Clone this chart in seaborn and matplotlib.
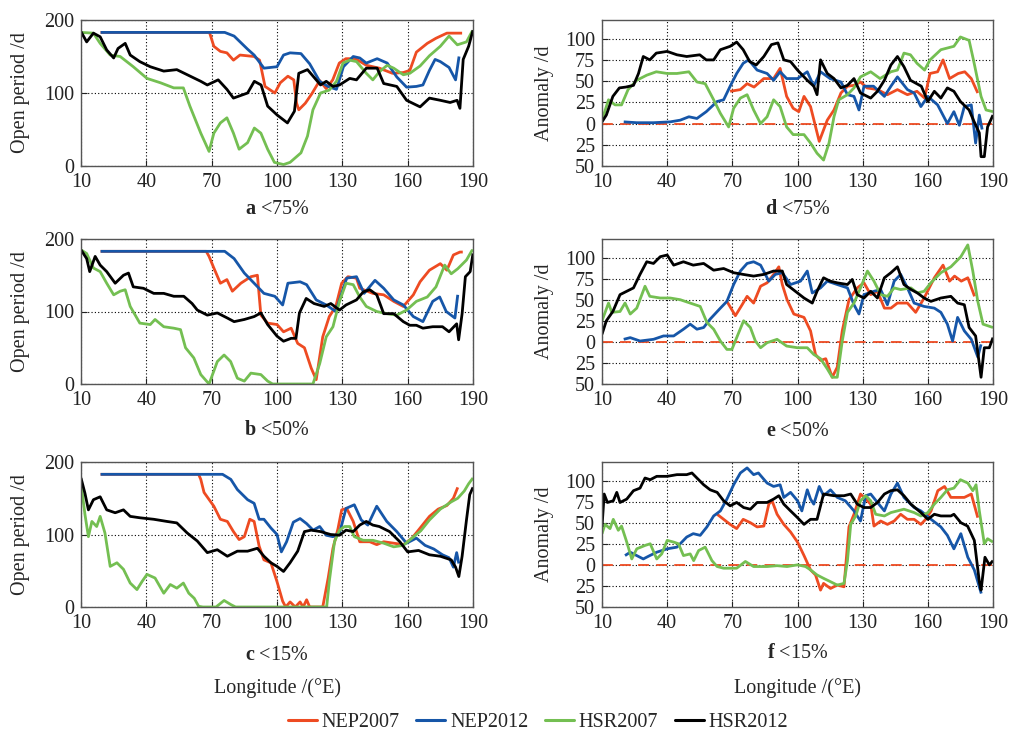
import matplotlib
matplotlib.use("Agg")
import matplotlib.pyplot as plt
from matplotlib.lines import Line2D
import pandas as pd
import seaborn as sns

# ---------------- data: longitude knots (deg E) and values (d) ----------------
SERIES = ["NEP2007", "NEP2012", "HSR2007", "HSR2012"]
COLORS = ["#EE4B22", "#1656A8", "#74BF52", "#000000"]

# open period, ice concentration < 75 %
A_NEP07_LON = [19, 69, 71, 74, 77, 80, 83, 89.5, 92, 94.5, 99, 101.5, 105, 107.7, 109, 110, 113, 116, 119.6, 122.6, 125.6, 128.6, 131.6, 136, 141, 147, 153, 158, 161, 164, 169, 173, 178, 185]
A_NEP07_VAL = [183, 183, 164, 157, 155, 145, 152, 150, 145, 109, 100, 114, 123, 118, 86, 77, 86, 99, 117, 106, 118, 141, 147, 147, 138, 134, 127, 128, 131, 156, 168, 175, 182, 182]
A_NEP12_LON = [19, 76, 80.3, 86.5, 89.5, 94, 100, 103, 106, 111, 115, 119.6, 123.4, 127.3, 130.5, 135, 138, 141, 146, 150.6, 155, 159.5, 164, 167, 170, 172.6, 175, 179, 182, 183.6]
A_NEP12_VAL = [183, 183, 178, 160, 152, 134, 136, 152, 155, 154, 140, 116, 109, 105, 136, 150, 148, 141, 147, 141, 122, 108, 109, 111, 131, 146, 143, 135, 118, 150]
A_HSR07_LON = [10, 15.7, 18.8, 23.4, 28, 34, 40.3, 46.5, 52.6, 57, 60, 65, 68.8, 71, 74, 77, 80, 82.6, 86.5, 89.6, 92.6, 95.7, 98.8, 103, 106, 111, 114, 116.5, 120, 124, 127.3, 130.3, 133.4, 136.5, 141, 144, 147, 150.6, 153.6, 158, 161, 165.7, 170, 175, 179, 182.8, 187, 189.5, 190]
A_HSR07_VAL = [183, 182, 168, 152, 150, 136, 120, 114, 107, 107, 82, 45, 20, 45, 59, 66, 45, 23, 32, 52, 45, 23, 5, 2, 5, 18, 41, 77, 100, 104, 116, 141, 145, 143, 127, 118, 129, 138, 134, 125, 127, 137, 151, 164, 178, 166, 170, 184, 185]
A_HSR12_LON = [10, 12.6, 15.7, 18.8, 21.8, 25, 27, 30.3, 32.6, 37, 41.8, 48, 54, 58.8, 65, 68, 73, 77, 80, 86.5, 89.6, 92.7, 95.7, 100, 104.8, 108, 110, 114, 118, 120, 122.6, 125.7, 128.7, 133.4, 136.5, 141, 146, 149, 155, 159.5, 165.7, 170, 175, 179.5, 182.7, 184, 185.5, 188, 190]
A_HSR12_VAL = [184, 170, 182, 177, 159, 148, 161, 168, 152, 143, 136, 130, 132, 125, 116, 111, 118, 105, 93, 100, 116, 111, 82, 70, 59, 75, 127, 132, 118, 111, 116, 109, 111, 120, 118, 134, 134, 113, 109, 90, 81, 93, 90, 87, 90, 79, 146, 164, 186]

# open period, ice concentration < 50 %
B_NEP07_LON = [19, 67.5, 68.8, 71, 74, 77, 79.5, 83.4, 88, 91, 92.6, 95.7, 100, 103, 106.5, 109.5, 112.6, 115.7, 118, 121, 124, 127, 129.7, 132.6, 136.5, 138, 144, 149, 153.6, 158, 162.6, 165.7, 170, 175, 178, 181, 184, 185.3]
B_NEP07_VAL = [183, 183, 176, 160, 139, 144, 128, 139, 148, 150, 95, 84, 82, 72, 77, 56, 50, 22, 6, 65, 93, 107, 139, 148, 146, 132, 125, 123, 114, 107, 123, 141, 157, 166, 157, 178, 182, 182]
B_NEP12_LON = [19, 76, 80.3, 85, 89.5, 94, 99, 102.6, 105, 110.6, 113.6, 118, 122.6, 127, 132, 136.5, 140, 145, 149, 153.6, 158, 162.6, 167, 171.5, 174.7, 177.7, 181.7, 183]
B_NEP12_VAL = [183, 183, 173, 153, 139, 125, 121, 109, 139, 141, 137, 116, 109, 100, 146, 148, 125, 143, 132, 116, 109, 93, 86, 114, 120, 100, 91, 123]
B_HSR07_LON = [10, 12.6, 15.7, 18.8, 21.8, 25, 28, 30.3, 32.6, 37, 41.8, 44, 48, 52.6, 55.7, 58, 61.8, 65, 68.8, 72.6, 75.7, 78.7, 81.8, 85, 88, 92.6, 95.7, 98, 116.5, 119.6, 122.6, 125.7, 128.7, 131.7, 135, 138, 141, 145.8, 150.4, 155, 159.5, 164, 169, 173, 177, 180, 183, 187, 189.5, 190]
B_HSR07_VAL = [185, 180, 160, 155, 139, 123, 128, 130, 107, 84, 82, 89, 79, 77, 75, 50, 36, 13, 0, 31, 40, 31, 8, 4, 15, 13, 4, 0, 0, 28, 65, 79, 114, 139, 137, 120, 107, 100, 97, 95, 102, 114, 120, 134, 164, 152, 159, 171, 184, 185]
B_HSR12_LON = [10, 12.6, 14, 16.5, 18.8, 21.8, 25.7, 29.5, 31.8, 34, 38.7, 43.4, 48, 52.6, 57.2, 61, 63.4, 68, 72.6, 77.2, 80.3, 85, 89.5, 92.6, 95.7, 100, 103, 106.5, 108.7, 110.3, 113.4, 117, 121.7, 124.7, 128.7, 131.7, 136.5, 139.6, 142.6, 145.8, 149, 153.6, 158, 161, 164, 167, 171.5, 176, 179, 182.5, 183.4, 185, 186.5, 188.7, 190]
B_HSR12_VAL = [185, 173, 155, 176, 164, 155, 139, 150, 153, 134, 132, 125, 125, 121, 121, 111, 102, 95, 98, 91, 86, 89, 93, 98, 82, 66, 59, 63, 63, 98, 118, 111, 107, 111, 102, 109, 116, 127, 130, 123, 97, 97, 86, 81, 81, 77, 79, 79, 72, 83, 61, 97, 148, 155, 180]

# open period, ice concentration < 15 %
C_NEP07_LON = [19, 64, 65, 66.5, 71, 74, 77.2, 80, 82.6, 85, 87.5, 89.5, 91.8, 94, 97.2, 100, 102.6, 104, 106, 108.4, 110.6, 112, 113.6, 115, 121, 123.5, 125.7, 128, 129.7, 132, 135, 138, 142.6, 145.8, 149, 153.6, 158, 162, 166, 170, 174, 178, 181, 183]
C_NEP07_VAL = [183, 183, 176, 158, 139, 121, 118, 104, 93, 97, 121, 118, 84, 65, 61, 35, 8, 0, 7, 0, 7, 0, 10, 0, 0, 40, 81, 108, 134, 136, 118, 90, 90, 86, 90, 88, 86, 95, 110, 125, 135, 140, 150, 165]
C_NEP12_LON = [19, 75, 78.8, 81.8, 86.5, 89.5, 91.8, 94, 97.2, 100, 102, 104.4, 107.5, 110.6, 113.6, 116.6, 119.6, 122.6, 125.7, 128.7, 131.7, 135.5, 138.7, 141.7, 145.8, 150.4, 155, 159.5, 164, 168, 172, 176, 179, 181, 182.5, 183.5]
C_NEP12_VAL = [183, 183, 176, 162, 148, 143, 121, 121, 109, 100, 76, 90, 117, 122, 115, 106, 111, 99, 97, 102, 136, 141, 120, 113, 139, 118, 104, 88, 95, 85, 80, 72, 68, 55, 75, 60]
C_HSR07_LON = [10, 11.8, 13.4, 15, 17.2, 18.8, 21, 23.4, 26.5, 29.5, 32.6, 35.7, 38, 40.3, 44, 48, 51, 54, 57, 59.5, 62, 64, 66, 72, 75.7, 79, 81, 122.8, 124, 126.4, 128.7, 131, 133.4, 135.5, 139.6, 144, 149, 153.6, 158, 162, 166, 170, 175, 180, 183, 186, 188, 190]
C_HSR07_VAL = [171, 128, 97, 118, 111, 125, 102, 56, 61, 52, 33, 24, 35, 45, 40, 19, 31, 26, 33, 19, 12, 1, 0, 0, 9, 3, 0, 0, 35, 90, 106, 111, 111, 97, 92, 92, 88, 83, 85, 95, 105, 120, 135, 145, 150, 160, 170, 178]
C_HSR12_LON = [10, 11.8, 13.4, 15.7, 18.8, 21.8, 25.7, 29.5, 32.6, 37.2, 43.4, 49.5, 54, 58.8, 63.4, 68, 72.6, 77.2, 81.8, 86.5, 91, 94, 97.2, 100, 103, 106, 109.5, 112.6, 115.7, 120, 124.6, 128.7, 131.7, 135, 138, 141, 144, 147, 151.7, 156.4, 160, 165, 170, 175, 180, 182, 183.5, 185, 187, 188.5, 190]
C_HSR12_VAL = [178, 157, 134, 148, 152, 134, 130, 134, 125, 123, 121, 118, 116, 102, 91, 75, 79, 70, 77, 77, 81, 70, 61, 56, 49, 61, 77, 104, 106, 104, 100, 99, 106, 104, 113, 118, 113, 111, 104, 90, 76, 78, 72, 70, 65, 55, 42, 70, 120, 155, 165]

# anomaly, ice concentration < 75 %
D_NEP07_LON = [69, 73.7, 76.8, 80, 84.5, 89, 92, 95, 98, 100.6, 103, 106, 110, 113.7, 116.8, 120, 123, 126, 129, 132, 136.8, 141.4, 146, 150.6, 155, 158.5, 161, 164.5, 167, 170, 174, 177, 180, 183]
D_NEP07_VAL = [38, 40, 47, 43, 53, 53, 65, 32, 18, 14, 32, 20, -21, 4, 16, 36, 44, 45, 49, 42, 40, 34, 40, 34, 38, 30, 59, 61, 75, 53, 59, 61, 53, 36]
D_NEP12_LON = [20, 26, 33.7, 41.4, 46, 50, 53.7, 58, 63, 66, 69, 72, 75, 77.5, 81.4, 86, 89, 92, 95, 100, 104.5, 107.5, 110.6, 115, 120, 123, 126, 128.3, 130.6, 135, 140, 143, 146, 150.6, 153.7, 156.8, 160, 164.5, 169, 172, 174.5, 176.8, 180, 182, 183.7, 185]
D_NEP12_VAL = [2, 1, 1, 2, 4, 8, 6, 14, 26, 28, 44, 59, 71, 75, 63, 59, 51, 61, 53, 53, 61, 44, 61, 53, 49, 34, 32, 16, 44, 44, 32, 44, 55, 40, 36, 20, 32, 22, 0, 14, -2, 20, 22, -23, 10, -7]
D_HSR07_LON = [10, 13, 16, 19, 22, 26, 30.6, 35, 40, 44.5, 50, 53.7, 57.5, 61.4, 64.5, 68.3, 70.6, 73.7, 76.8, 79.8, 83, 86, 89, 92, 95, 98, 103, 106, 109, 112, 114.5, 116.8, 119, 123, 126, 129, 133.7, 138, 143, 146, 149, 152, 155, 158.5, 161, 166, 172, 175, 179, 181, 184.5, 186.8, 190]
D_HSR07_VAL = [4, 28, 22, 22, 40, 51, 57, 61, 59, 59, 61, 49, 47, 28, 12, -4, 18, 30, 34, 16, 0, 8, 28, 20, -4, -13, -13, -23, -35, -43, -23, 8, 28, 34, 42, 55, 61, 53, 61, 63, 83, 81, 71, 63, 75, 87, 91, 102, 98, 75, 32, 16, 14]
D_HSR12_LON = [10, 12, 15, 18, 21, 24.5, 26.8, 29, 32, 35, 40, 44.5, 49, 55, 58, 61.4, 64.5, 69, 72, 75, 78, 81, 84.5, 88, 91, 93.7, 96.8, 100, 104.5, 107.5, 109, 110.6, 113.7, 116.8, 120, 123, 126, 129, 133.7, 136.8, 140, 143, 146, 149, 152, 157, 160, 163, 166, 169, 172, 175, 179, 181, 183.7, 184.5, 186, 187.5, 190]
D_HSR12_VAL = [2, 10, 32, 42, 43, 45, 59, 79, 75, 83, 85, 81, 79, 81, 75, 75, 87, 91, 96, 87, 73, 69, 79, 93, 95, 75, 73, 63, 51, 44, 34, 75, 59, 53, 42, 45, 53, 36, 30, 38, 51, 69, 79, 67, 51, 44, 26, 38, 30, 42, 38, 26, 16, 4, -11, -39, -39, -4, 10]

# anomaly, ice concentration < 50 %
E_NEP07_LON = [67.5, 71.4, 74.5, 76.8, 79.8, 83, 86, 89, 91.4, 93, 95.2, 98.3, 103, 106, 108.3, 110.6, 113, 116, 118.3, 120.6, 123.7, 127.5, 130.6, 133.7, 136.8, 140, 143, 146, 150.6, 154.4, 158.3, 163, 167, 170, 172.3, 175.4, 178.4, 181.5]
E_NEP07_VAL = [48, 31, 44, 54, 46, 66, 70, 80, 89, 68, 50, 33, 29, 13, -15, -22, -20, -42, -30, 13, 50, 64, 70, 56, 60, 40, 40, 46, 46, 35, 52, 76, 91, 72, 78, 72, 76, 54]
E_NEP12_LON = [20, 23, 27.5, 33.7, 38.3, 43, 47.5, 50.6, 53.7, 56.8, 59.8, 64.5, 67.5, 70.6, 73.7, 76.8, 79.8, 83, 86.8, 89.8, 93, 96.8, 101.4, 104.5, 106.8, 110.6, 113.7, 118.3, 123, 126, 128.3, 130.6, 135.2, 138.3, 141.4, 144.5, 147.5, 150.6, 153.7, 158.3, 163, 166, 169, 171.4, 173.7, 176.8, 180, 183, 184.5]
E_NEP12_VAL = [3, 5, 1, 3, 7, 7, 15, 21, 15, 17, 27, 40, 48, 68, 84, 93, 95, 91, 72, 80, 82, 68, 72, 84, 58, 64, 72, 68, 64, 44, 33, 56, 60, 62, 44, 72, 80, 64, 46, 42, 40, 35, 21, 1, 29, 13, 3, -18, -3]
E_HSR07_LON = [10, 13, 14.5, 18.3, 20.6, 23, 26, 29.8, 32, 36.8, 41.4, 46, 50.6, 55.2, 58.3, 61.4, 64.5, 67.5, 69.8, 72, 75.2, 78.3, 80.6, 83, 86, 90.6, 95, 100, 104.5, 107.5, 110.6, 113.7, 116, 118.3, 120.6, 123, 126, 129, 132.2, 135.2, 138.3, 141.4, 144.5, 147.5, 152.2, 155.2, 158.3, 161.4, 166, 170.6, 175.2, 178.4, 180.7, 183, 185.4, 190]
E_HSR07_VAL = [25, 46, 35, 36, 46, 33, 40, 66, 54, 52, 52, 50, 46, 42, 23, 15, 1, -9, -9, 5, 25, 17, 1, -7, -1, 3, -5, -7, -7, -15, -20, -32, -42, -42, 1, 35, 46, 64, 84, 72, 56, 54, 64, 62, 64, 58, 60, 70, 82, 89, 101, 115, 84, 48, 21, 17]
E_HSR12_LON = [10, 12, 15, 18.3, 21.4, 24.5, 27.5, 30.6, 33.7, 36.8, 40, 43, 47.5, 52, 56.8, 61.4, 66, 70.6, 75, 79.8, 84.5, 89, 93, 95, 100, 103, 106.8, 109, 112, 115, 118.3, 123, 125.2, 127.5, 130.6, 133.7, 136.8, 140, 143, 146, 149, 152.3, 155.2, 158.3, 161.4, 166, 170.6, 173.7, 176.8, 179, 182, 184.5, 186, 188.3, 190]
E_HSR12_VAL = [9, 25, 36, 56, 60, 64, 80, 95, 93, 101, 103, 91, 95, 91, 93, 85, 87, 82, 80, 78, 80, 84, 84, 68, 58, 52, 46, 60, 76, 72, 70, 68, 74, 56, 52, 60, 52, 76, 82, 89, 68, 62, 58, 52, 48, 52, 54, 46, 44, 17, 7, -42, -7, -7, 5]

# anomaly, ice concentration < 15 %
F_NEP07_LON = [63, 66, 69, 72, 75, 78.3, 81.4, 84.5, 86.8, 88.3, 90.6, 93.7, 96.8, 100, 103, 106, 108.3, 110.6, 112, 115.2, 118.3, 121.4, 123.7, 126, 129, 131.4, 133.7, 135.2, 138.3, 141.4, 144.5, 147.5, 150.6, 153.7, 156.8, 159, 161.5, 164.6, 167.7, 170.6, 173.7, 176.8, 180, 183]
F_NEP07_VAL = [60, 54, 48, 43, 54, 50, 45, 46, 72, 76, 60, 48, 39, 27, 11, -6, -12, -30, -22, -28, -24, -26, 45, 60, 84, 78, 72, 46, 52, 48, 52, 60, 54, 54, 48, 54, 64, 88, 93, 80, 80, 80, 84, 56]
F_NEP12_LON = [20.6, 23, 26, 29, 32, 35.2, 40, 44.5, 49, 52, 55.2, 58.3, 61.4, 64.5, 67.5, 70.6, 73.7, 76.8, 79.8, 82, 86, 89, 92, 93.7, 96.8, 100, 102, 104.5, 106, 107.5, 110, 112, 115.2, 118.3, 122, 126, 129, 131.4, 133.7, 136.8, 140, 143, 146, 149, 153.7, 156.8, 161.5, 166, 169, 172, 175.2, 178.4, 181.4, 184.6]
F_NEP12_VAL = [11, 15, 11, 7, 11, 15, 19, 21, 33, 37, 35, 45, 58, 64, 78, 95, 109, 115, 107, 109, 97, 93, 95, 80, 86, 76, 64, 89, 78, 72, 93, 82, 89, 80, 76, 64, 52, 82, 84, 74, 64, 84, 97, 80, 68, 64, 54, 45, 35, 19, 37, 9, -6, -34]
F_HSR07_LON = [10, 11.4, 13.7, 15.2, 17.5, 19, 21.4, 23.7, 26, 29.8, 32.2, 35.2, 37.5, 40, 43, 45.2, 47.5, 50.6, 52.2, 54.5, 57.5, 60.6, 63, 66, 72, 76, 79.8, 86, 90.6, 95.2, 100, 103.7, 106, 109, 112, 115.2, 118.3, 121.4, 123, 124.5, 126.8, 129, 131.4, 133.7, 136, 140, 143, 146, 149, 153.7, 156.8, 160, 163, 166, 169, 172, 175, 178.4, 180.7, 182.2, 183.7, 186, 187.5, 190]
F_HSR07_VAL = [37, 48, 43, 54, 41, 46, 27, 7, 19, 23, 25, 7, 13, 29, 27, 25, 11, 13, 5, 17, 21, 5, -2, -4, -4, 4, -2, -2, -1, -2, 0, -2, -6, -12, -16, -20, -24, -22, 5, 48, 58, 76, 82, 76, 60, 58, 62, 64, 66, 62, 58, 62, 72, 80, 89, 91, 101, 97, 88, 95, 64, 25, 31, 27]
F_HSR12_LON = [10, 11, 12.5, 15.2, 16.8, 18.3, 21.4, 24.5, 27.5, 29.8, 32.2, 35.2, 40, 44.5, 49, 51.4, 53.7, 56.8, 59.8, 63, 66, 69, 72, 75.2, 78.3, 81.4, 86, 89, 91.4, 93.7, 96.8, 100, 103, 106, 109, 112, 116.8, 121.4, 124.5, 127.5, 130.6, 133.7, 136.8, 140, 143, 146, 149, 152.2, 156.8, 160, 163, 166, 170.6, 172, 175.2, 178.3, 181.4, 183.7, 184.5, 186.3, 188.3, 190]
F_HSR12_VAL = [45, 84, 74, 76, 86, 74, 78, 88, 91, 103, 101, 105, 105, 107, 107, 109, 103, 95, 89, 86, 76, 70, 74, 68, 66, 74, 74, 78, 82, 72, 64, 56, 48, 54, 54, 84, 82, 82, 84, 72, 68, 68, 74, 84, 88, 89, 82, 72, 62, 54, 60, 58, 58, 60, 50, 46, 29, -20, -30, 9, 0, 5]

X_TICKS = [10, 40, 70, 100, 130, 160, 190]
OPEN_TICKS = [0, 100, 200]
ANOM_TICKS = [-50, -25, 0, 25, 50, 75, 100]
ANOM_TICK_LABELS = ["50", "25", "0", "25", "50", "75", "100"]

PANELS = [
    # letter, caption, kind, series knots
    ("a", "<75%", "open", [(A_NEP07_LON, A_NEP07_VAL), (A_NEP12_LON, A_NEP12_VAL), (A_HSR07_LON, A_HSR07_VAL), (A_HSR12_LON, A_HSR12_VAL)]),
    ("b", "<50%", "open", [(B_NEP07_LON, B_NEP07_VAL), (B_NEP12_LON, B_NEP12_VAL), (B_HSR07_LON, B_HSR07_VAL), (B_HSR12_LON, B_HSR12_VAL)]),
    ("c", "<15%", "open", [(C_NEP07_LON, C_NEP07_VAL), (C_NEP12_LON, C_NEP12_VAL), (C_HSR07_LON, C_HSR07_VAL), (C_HSR12_LON, C_HSR12_VAL)]),
    ("d", "<75%", "anom", [(D_NEP07_LON, D_NEP07_VAL), (D_NEP12_LON, D_NEP12_VAL), (D_HSR07_LON, D_HSR07_VAL), (D_HSR12_LON, D_HSR12_VAL)]),
    ("e", "<50%", "anom", [(E_NEP07_LON, E_NEP07_VAL), (E_NEP12_LON, E_NEP12_VAL), (E_HSR07_LON, E_HSR07_VAL), (E_HSR12_LON, E_HSR12_VAL)]),
    ("f", "<15%", "anom", [(F_NEP07_LON, F_NEP07_VAL), (F_NEP12_LON, F_NEP12_VAL), (F_HSR07_LON, F_HSR07_VAL), (F_HSR12_LON, F_HSR12_VAL)]),
]

# ---------------- style ----------------
sns.set_theme(style="ticks")
plt.rcParams["font.family"] = ["Liberation Serif", "DejaVu Serif"]
plt.rcParams["mathtext.fontset"] = "custom"
plt.rcParams["mathtext.rm"] = "Liberation Serif"
plt.rcParams["mathtext.bf"] = "Liberation Serif:bold"
FS = 14.5

W, H = 1011, 734
fig = plt.figure(figsize=(W / 100, H / 100), dpi=100)

# axes boxes in pixels: (left, top, right, bottom)
BOXES = {
    "a": (81, 20, 473, 166), "b": (81, 239, 473, 384), "c": (81, 462, 473, 607),
    "d": (602, 20, 993, 166), "e": (602, 239, 993, 384), "f": (602, 462, 993, 607),
}
CAPTION_Y = {"a": 209, "b": 431, "c": 655, "d": 209, "e": 432, "f": 654}

for letter, caption, kind, knots in PANELS:
    l, t, r, b = BOXES[letter]
    ax = fig.add_axes([l / W, 1 - b / H, (r - l) / W, (b - t) / H])

    frames = []
    for name, (lon, val) in zip(SERIES, knots):
        frames.append(pd.DataFrame({"lon": lon, "value": val, "series": name}))
    df = pd.concat(frames, ignore_index=True)

    if kind == "anom":
        ax.axhline(0, color=COLORS[0], lw=1.3, ls=(0, (6, 4)), zorder=1.5)

    sns.lineplot(data=df, x="lon", y="value", hue="series", hue_order=SERIES,
                 palette=COLORS, estimator=None, sort=False, legend=False,
                 lw=2.0, ax=ax, zorder=3)
    for ln in ax.lines:
        ln.set_solid_joinstyle("round")
        ln.set_solid_capstyle("butt")

    ax.set_xlim(10, 190)
    ax.set_xticks(X_TICKS)
    if kind == "open":
        ax.set_ylim(0, 200)
        ax.set_yticks(OPEN_TICKS)
        ax.set_ylabel("Open period /d", fontsize=FS)
        ax.yaxis.set_label_coords((21 - l) / (r - l), 0.5)
    else:
        ax.set_ylim(-50, 122)
        ax.set_yticks(ANOM_TICKS)
        ax.set_yticklabels(ANOM_TICK_LABELS)
        ax.set_ylabel("Anomaly /d", fontsize=FS)
        ax.yaxis.set_label_coords((545 - l) / (r - l), 0.5)
    ax.yaxis.label.set_verticalalignment("center")

    ax.set_xlabel(r"$\mathbf{" + letter + "}$ " + caption, fontsize=FS)
    ax.xaxis.set_label_coords(0.5, -(CAPTION_Y[letter] - b) / (b - t))
    ax.xaxis.label.set_verticalalignment("center")

    ax.grid(True, color="black", ls=(0, (1, 2)), lw=0.8)
    ax.tick_params(axis="both", direction="in", length=4, width=0.8,
                   labelsize=FS, pad=5, colors="#222222")
    for sp in ax.spines.values():
        sp.set_color("#555555")
        sp.set_linewidth(1.0)
        sp.set_zorder(4)

fig.text(277 / W, 1 - 688 / H, "Longitude /(°E)", ha="center", va="center", fontsize=FS)
fig.text(797 / W, 1 - 688 / H, "Longitude /(°E)", ha="center", va="center", fontsize=FS)

handles = [Line2D([], [], color=c, lw=2.2) for c in COLORS]
fig.legend(handles, SERIES, loc="center", bbox_to_anchor=(538 / W, 1 - 722 / H),
           ncol=4, frameon=False, fontsize=FS, handlelength=1.45,
           handletextpad=0.25, columnspacing=0.8)

fig.savefig("out.png", dpi=100)
